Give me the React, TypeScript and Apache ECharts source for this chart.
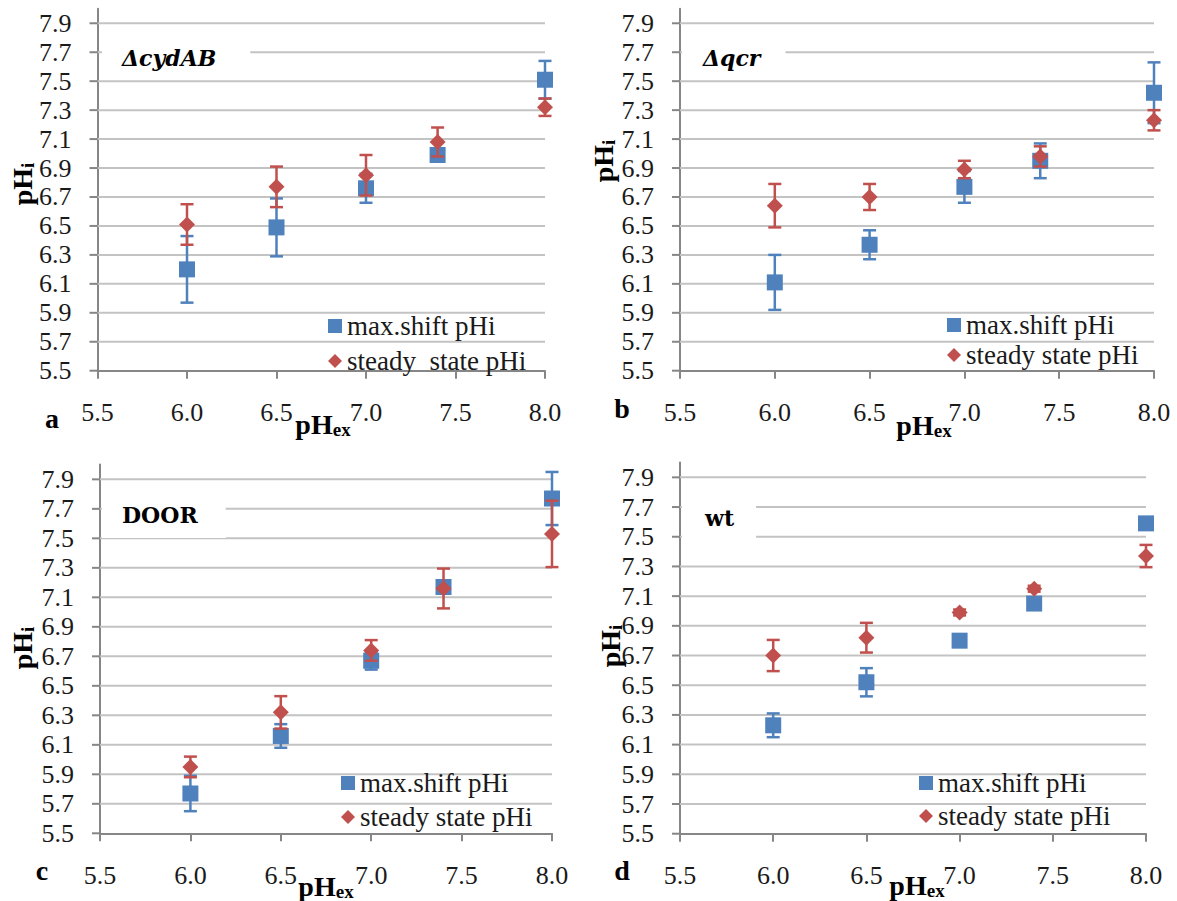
import React, { useEffect, useRef } from 'react';
import * as echarts from 'echarts';

// External pH values at which pHi was measured
const xValues = [6.0, 6.5, 7.0, 7.4, 8.0];
const yTickLabels = ['5.5', '5.7', '5.9', '6.1', '6.3', '6.5', '6.7', '6.9', '7.1', '7.3', '7.5', '7.7', '7.9'];
const panelNames = ['ΔcydAB', 'Δqcr', 'DOOR', 'wt'];
const panelLetters = ['a', 'b', 'c', 'd'];
const maxShiftName = 'max.shift pHi';
const steadyNames = ['steady  state pHi', 'steady state pHi', 'steady state pHi', 'steady state pHi'];

// ΔcydAB
const maxShiftA = [6.2, 6.49, 6.76, 6.99, 7.51];
const maxShiftErrA = [0.23, 0.2, 0.1, 0.03, 0.13];
const steadyA = [6.51, 6.77, 6.85, 7.08, 7.32];
const steadyErrA = [0.14, 0.14, 0.14, 0.1, 0.06];

// Δqcr
const maxShiftB = [6.11, 6.37, 6.77, 6.95, 7.42];
const maxShiftErrB = [0.19, 0.1, 0.11, 0.12, 0.21];
const steadyB = [6.64, 6.7, 6.89, 6.98, 7.23];
const steadyErrB = [0.15, 0.09, 0.06, 0.07, 0.07];

// DOOR
const maxShiftC = [5.77, 6.16, 6.67, 7.17, 7.77];
const maxShiftErrC = [0.12, 0.08, 0.06, 0.03, 0.18];
const steadyC = [5.95, 6.32, 6.74, 7.16, 7.53];
const steadyErrC = [0.07, 0.11, 0.07, 0.135, 0.225];

// wt
const maxShiftD = [6.23, 6.52, 6.8, 7.05, 7.59];
const maxShiftErrD = [0.08, 0.095, 0.03, 0.01, 0.01];
const steadyD = [6.7, 6.82, 6.99, 7.15, 7.37];
const steadyErrD = [0.105, 0.1, 0.02, 0.02, 0.075];

const maxShift = [maxShiftA, maxShiftB, maxShiftC, maxShiftD];
const maxShiftErr = [maxShiftErrA, maxShiftErrB, maxShiftErrC, maxShiftErrD];
const steady = [steadyA, steadyB, steadyC, steadyD];
const steadyErr = [steadyErrA, steadyErrB, steadyErrC, steadyErrD];

const X_MIN = 5.5;
const X_MAX = 8.0;
const Y_MIN = 5.5;
const Y_MAX = 8.0;

const BLUE = '#4f81bd';
const RED = '#c0504d';
const AXIS = '#868686';
const GRID = '#c3c3c3';
const TEXT = '#1a1a1a';
const SERIF = 'Liberation Serif';
const TITLE_FONT = 'DejaVu Serif';

// Page layout of the four panels
const layout = [
  {
    grid: { left: 97.5, top: 8.8, width: 447.5, height: 361.9 },
    title: { left: 102, top: 37, padding: [10, 34, 10, 20], italic: true },
    legend: { left: 328, top: 311, itemGap: 5 },
    letter: { x: 52, y: 418 },
    xName: { x: 323, y: 424 },
    yName: { x: 22, y: 184 },
  },
  {
    grid: { left: 680, top: 8.8, width: 474, height: 361.9 },
    title: { left: 682, top: 37, padding: [10, 25, 10, 21], italic: true },
    legend: { left: 947, top: 310, itemGap: 0 },
    letter: { x: 622, y: 408 },
    xName: { x: 924, y: 425 },
    yName: { x: 603, y: 161 },
  },
  {
    grid: { left: 100, top: 464.6, width: 452, height: 368.7 },
    title: { left: 102, top: 491, padding: [13, 28, 12, 20], italic: false },
    legend: { left: 341, top: 768, itemGap: 4 },
    letter: { x: 42, y: 870 },
    xName: { x: 326, y: 886 },
    yName: { x: 22, y: 648 },
  },
  {
    grid: { left: 680, top: 462.5, width: 466, height: 371.2 },
    title: { left: 682, top: 495, padding: [12, 22, 16, 23], italic: false },
    legend: { left: 919, top: 768, itemGap: 3 },
    letter: { x: 622, y: 870 },
    xName: { x: 917, y: 885 },
    yName: { x: 610, y: 646 },
  },
];

// Horizontal gridlines plus the outward tick marks on the y axis
const gridRender = (params: any, api: any) => {
  const y = api.value(1);
  const p0 = api.coord([X_MIN, y]);
  const p1 = api.coord([X_MAX, y]);
  const children: any[] = [
    {
      type: 'line',
      shape: { x1: p0[0] - 8, y1: p0[1], x2: p0[0], y2: p0[1] },
      style: { stroke: AXIS, lineWidth: 2 },
    },
  ];
  if (y > Y_MIN + 1e-6) {
    children.unshift({
      type: 'line',
      shape: { x1: p0[0], y1: p0[1], x2: p1[0], y2: p1[1] },
      style: { stroke: GRID, lineWidth: 2 },
    });
  }
  return { type: 'group', children };
};

// Vertical error bar with caps
const errorRender = (color: string) => (params: any, api: any) => {
  const x = api.value(0);
  const top = api.coord([x, api.value(2)]);
  const bot = api.coord([x, api.value(1)]);
  const cap = 6.5;
  const style = { stroke: color, lineWidth: 2.5 };
  return {
    type: 'group',
    children: [
      { type: 'line', shape: { x1: top[0], y1: top[1], x2: bot[0], y2: bot[1] }, style },
      { type: 'line', shape: { x1: top[0] - cap, y1: top[1], x2: top[0] + cap, y2: top[1] }, style },
      { type: 'line', shape: { x1: bot[0] - cap, y1: bot[1], x2: bot[0] + cap, y2: bot[1] }, style },
    ],
  };
};

const buildOption = () => {
  const grid: any[] = [];
  const xAxis: any[] = [];
  const yAxis: any[] = [];
  const series: any[] = [];
  const title: any[] = [];
  const legend: any[] = [];
  const graphic: any[] = [];

  layout.forEach((L, i) => {
    grid.push({ ...L.grid, containLabel: false, outerBoundsMode: 'none' });
    xAxis.push({
      gridIndex: i,
      type: 'value',
      min: X_MIN,
      max: X_MAX,
      interval: 0.5,
      axisLine: { show: true, onZero: false, lineStyle: { color: AXIS, width: 2 } },
      axisTick: { show: true, length: 8, lineStyle: { color: AXIS, width: 2 } },
      splitLine: { show: false },
      axisLabel: {
        margin: 29,
        fontSize: 26,
        fontFamily: SERIF,
        color: TEXT,
        formatter: (v: number) => v.toFixed(1),
      },
    });
    yAxis.push({
      gridIndex: i,
      type: 'value',
      min: Y_MIN,
      max: Y_MAX,
      interval: 0.1,
      axisLine: { show: true, onZero: false, lineStyle: { color: AXIS, width: 2 } },
      axisTick: { show: false },
      splitLine: { show: false },
      axisLabel: {
        margin: 26,
        fontSize: 26,
        fontFamily: SERIF,
        color: TEXT,
        formatter: (v: number) => {
          const s = v.toFixed(1);
          return yTickLabels.includes(s) ? s : '';
        },
      },
    });

    series.push({
      type: 'custom',
      name: 'grid-' + i,
      xAxisIndex: i,
      yAxisIndex: i,
      clip: false,
      silent: true,
      z: 1,
      renderItem: gridRender,
      encode: { x: 0, y: 1 },
      data: yTickLabels.map((s) => [X_MIN, Number(s)]),
    });

    const ms = maxShift[i];
    const mse = maxShiftErr[i];
    const ss = steady[i];
    const sse = steadyErr[i];

    series.push({
      type: 'custom',
      name: 'maxshift-err-' + i,
      xAxisIndex: i,
      yAxisIndex: i,
      clip: false,
      z: 2,
      renderItem: errorRender(BLUE),
      encode: { x: 0, y: [1, 2] },
      data: xValues.map((x, k) => [x, ms[k] - mse[k], ms[k] + mse[k]]),
    });
    series.push({
      type: 'scatter',
      name: maxShiftName,
      xAxisIndex: i,
      yAxisIndex: i,
      symbol: 'rect',
      symbolSize: 16,
      z: 3,
      itemStyle: { color: BLUE, opacity: 1 },
      data: xValues.map((x, k) => [x, ms[k]]),
    });
    series.push({
      type: 'custom',
      name: 'steady-err-' + i,
      xAxisIndex: i,
      yAxisIndex: i,
      clip: false,
      z: 4,
      renderItem: errorRender(RED),
      encode: { x: 0, y: [1, 2] },
      data: xValues.map((x, k) => [x, ss[k] - sse[k], ss[k] + sse[k]]),
    });
    series.push({
      type: 'scatter',
      name: steadyNames[i],
      xAxisIndex: i,
      yAxisIndex: i,
      symbol: 'diamond',
      symbolSize: 16,
      z: 5,
      itemStyle: { color: RED, opacity: 1 },
      data: xValues.map((x, k) => [x, ss[k]]),
    });

    title.push({
      text: panelNames[i],
      left: L.title.left,
      top: L.title.top,
      padding: L.title.padding,
      backgroundColor: '#ffffff',
      z: 10,
      textStyle: {
        fontFamily: TITLE_FONT,
        fontWeight: 'bold',
        fontStyle: L.title.italic ? 'italic' : 'normal',
        fontSize: 22,
        lineHeight: 22,
        color: '#000',
      },
    });

    legend.push({
      orient: 'vertical',
      left: L.legend.left,
      top: L.legend.top,
      padding: 0,
      itemGap: L.legend.itemGap,
      itemWidth: 14,
      itemHeight: 14,
      selectedMode: false,
      z: 10,
      data: [
        { name: maxShiftName, icon: 'rect' },
        { name: steadyNames[i], icon: 'diamond' },
      ],
      textStyle: { fontFamily: SERIF, fontSize: 27, lineHeight: 30, color: TEXT },
    });

    graphic.push({
      type: 'text',
      x: L.letter.x,
      y: L.letter.y,
      style: {
        text: panelLetters[i],
        fontFamily: SERIF,
        fontWeight: 'bold',
        fontSize: 28,
        fill: '#000',
        align: 'center',
        verticalAlign: 'middle',
      },
    });
    graphic.push({
      type: 'text',
      x: L.xName.x,
      y: L.xName.y,
      style: {
        text: '{p|pH}{s|ex}',
        align: 'center',
        verticalAlign: 'middle',
        rich: {
          p: { fontFamily: SERIF, fontWeight: 'bold', fontSize: 28, fill: '#000', lineHeight: 30 },
          s: {
            fontFamily: SERIF,
            fontWeight: 'bold',
            fontSize: 19,
            fill: '#000',
            lineHeight: 19,
            padding: [10, 0, 0, 0],
          },
        },
      },
    });
    graphic.push({
      type: 'text',
      x: L.yName.x,
      y: L.yName.y,
      rotation: Math.PI / 2,
      style: {
        text: '{p|pH}{s|i}',
        align: 'center',
        verticalAlign: 'middle',
        rich: {
          p: { fontFamily: SERIF, fontWeight: 'bold', fontSize: 28, fill: '#000', lineHeight: 30 },
          s: {
            fontFamily: SERIF,
            fontWeight: 'bold',
            fontSize: 19,
            fill: '#000',
            lineHeight: 19,
            padding: [10, 0, 0, 0],
          },
        },
      },
    });
  });

  return {
    animation: false,
    backgroundColor: '#ffffff',
    tooltip: { show: false },
    grid,
    xAxis,
    yAxis,
    series,
    title,
    legend,
    graphic,
  };
};

export default function App() {
  const ref = useRef<HTMLDivElement>(null);

  useEffect(() => {
    if (!ref.current) return;
    const chart = echarts.init(ref.current, undefined, { renderer: 'svg' });
    chart.setOption(buildOption() as any);
    return () => chart.dispose();
  }, []);

  return (
    <div
      ref={ref}
      style={{ position: 'absolute', left: 0, top: 0, width: 1177, height: 901, background: '#fff' }}
    />
  );
}
